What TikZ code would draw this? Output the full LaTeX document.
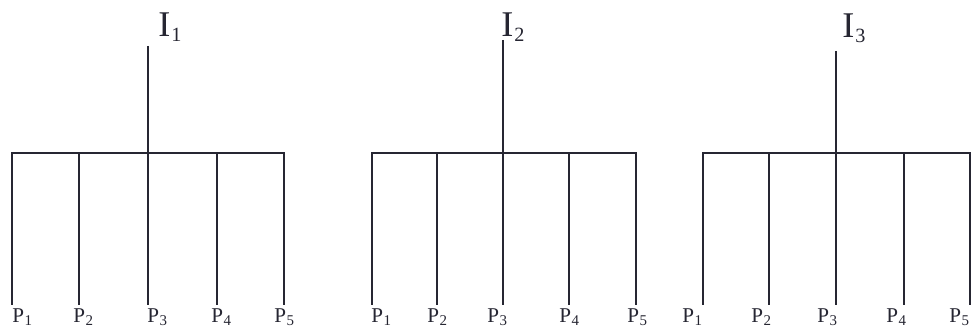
\documentclass[tikz,border=0pt]{standalone}
\usepackage{fontspec}
\setmainfont{Liberation Serif}
\newcommand{\Ilab}[1]{\fontsize{20.6}{24}\selectfont I\kern0.6pt\raisebox{-2.8pt}{\fontsize{11.5}{12}\selectfont #1}}
\newcommand{\Plab}[1]{\fontsize{12}{14}\selectfont P\kern0.3pt\raisebox{-1.9pt}{\fontsize{8.5}{10}\selectfont #1}}
\definecolor{ink}{RGB}{38,38,50}
\begin{document}
\begin{tikzpicture}[x=0.02cm,y=-0.02cm,
  wire/.style={draw=ink,line width=1.5pt},
  tlab/.style={inner sep=0pt,anchor=base west,text=ink},
  plab/.style={inner sep=0pt,anchor=base west,text=ink}]
\useasboundingbox (0,0) rectangle (971,330);
% ---------- tree 1 ----------
\node[tlab] (I1) at (158,37) {\Ilab{1}};
\coordinate (t1top) at (148,46);
\coordinate (t1bl) at (12,153);
\coordinate (t1br) at (284,153);
\draw[wire] (t1top) -- (148,153);
\draw[wire,line cap=rect] (t1bl) -- (t1br);
\foreach \x/\lx [count=\i] in {12/12,79/73,148/147,217/211,284/274}{
  \coordinate (t1a\i) at (\x,153);
  \coordinate (t1e\i) at (\x,305);
  \draw[wire] (t1a\i) -- (t1e\i);
  \node[plab] (t1p\i) at (\lx,322.5) {\Plab{\i}};
}
% ---------- tree 2 ----------
\node[tlab] (I2) at (501,37) {\Ilab{2}};
\coordinate (t2top) at (503,40);
\coordinate (t2bl) at (372,153);
\coordinate (t2br) at (636,153);
\draw[wire] (t2top) -- (503,153);
\draw[wire,line cap=rect] (t2bl) -- (t2br);
\foreach \x/\lx [count=\i] in {372/371,437/427,503/487,569/559,636/627}{
  \coordinate (t2a\i) at (\x,153);
  \coordinate (t2e\i) at (\x,305);
  \draw[wire] (t2a\i) -- (t2e\i);
  \node[plab] (t2p\i) at (\lx,322.5) {\Plab{\i}};
}
% ---------- tree 3 ----------
\node[tlab] (I3) at (842,38) {\Ilab{3}};
\coordinate (t3top) at (836,51);
\coordinate (t3bl) at (703,153);
\coordinate (t3br) at (975,153);
\draw[wire] (t3top) -- (836,153);
\draw[wire,line cap=rect] (t3bl) -- (t3br);
\foreach \x/\lx [count=\i] in {703/682,769/751,836/817,904/886,970/949}{
  \coordinate (t3a\i) at (\x,153);
  \coordinate (t3e\i) at (\x,305);
  \draw[wire] (t3a\i) -- (t3e\i);
  \node[plab] (t3p\i) at (\lx,322.5) {\Plab{\i}};
}
\end{tikzpicture}
\end{document}
